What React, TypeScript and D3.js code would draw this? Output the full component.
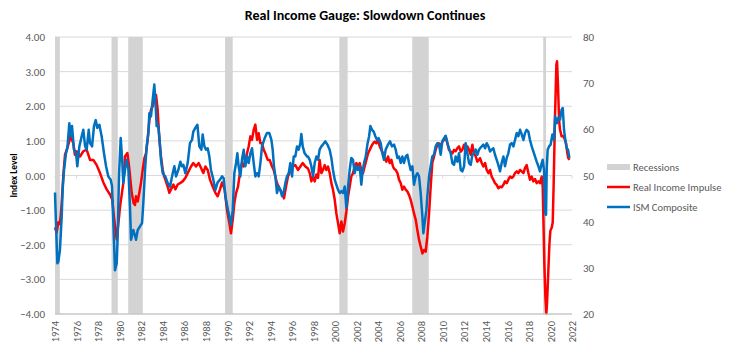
import React, { Component } from "react";
import * as d3 from "d3";

// decimal year, index level
const incomeImpulse: [number, number][] = [
  [1974.75, -1.5], [1974.9, -1.65], [1975.06, -1.35], [1975.2, -1.4], [1975.3, -1.1], [1975.37, -0.8],
  [1975.52, 0.0], [1975.68, 0.6], [1975.85, 0.75], [1975.99, 0.9], [1976.2, 1.13], [1976.45, 0.93],
  [1976.6, 0.6], [1976.76, 0.7], [1977.07, 0.55], [1977.38, 0.7], [1977.69, 0.75], [1978.0, 0.45],
  [1978.31, 0.45], [1978.62, 0.3], [1978.93, 0.07], [1979.24, -0.2], [1979.55, -0.4], [1979.86, -0.55],
  [1980.07, -0.7], [1980.26, -1.3], [1980.48, -1.85], [1980.63, -1.4], [1980.79, -0.9], [1981.1, -0.2],
  [1981.25, 0.55], [1981.47, 0.65], [1981.65, 0.2], [1981.87, -0.5], [1982.05, -0.8], [1982.18, -0.85],
  [1982.27, -0.6], [1982.43, -0.75], [1982.58, -0.5], [1982.74, -0.2], [1982.89, 0.16], [1983.05, 0.5],
  [1983.2, 0.64], [1983.35, 1.03], [1983.51, 1.6], [1983.66, 1.9], [1983.82, 2.0], [1983.97, 2.19],
  [1984.13, 2.33], [1984.28, 1.9], [1984.44, 1.03], [1984.59, 0.55], [1984.75, 0.16], [1984.9, -0.03],
  [1985.21, -0.32], [1985.37, -0.5], [1985.52, -0.4], [1985.74, -0.26], [1985.92, -0.4], [1986.14, -0.26],
  [1986.36, -0.22], [1986.6, -0.17], [1986.85, -0.07], [1987.07, 0.07], [1987.38, 0.26], [1987.59, 0.36],
  [1987.84, 0.26], [1988.09, 0.36], [1988.31, 0.22], [1988.52, 0.07], [1988.71, 0.26], [1988.93, 0.16],
  [1989.14, -0.12], [1989.39, -0.32], [1989.64, -0.5], [1989.85, -0.6], [1990.07, -0.4], [1990.26, -0.2],
  [1990.5, -0.41], [1990.72, -1.0], [1990.94, -1.38], [1991.09, -1.67], [1991.25, -1.28], [1991.4, -0.8],
  [1991.56, -0.51], [1991.74, -0.32], [1991.96, 0.16], [1992.11, 0.36], [1992.27, 0.26], [1992.42, 0.45],
  [1992.58, 0.64], [1992.73, 0.84], [1992.89, 1.13], [1993.04, 1.03], [1993.2, 1.32], [1993.35, 1.47],
  [1993.51, 1.03], [1993.66, 1.22], [1993.82, 0.93], [1993.97, 0.93], [1994.13, 0.74], [1994.28, 0.64],
  [1994.5, 0.45], [1994.68, 0.45], [1994.9, 0.26], [1995.05, 0.16], [1995.21, -0.03], [1995.36, -0.22],
  [1995.58, -0.37], [1995.83, -0.5], [1996.01, -0.66], [1996.2, -0.32], [1996.38, -0.03], [1996.6, 0.12],
  [1996.82, 0.26], [1997.06, 0.3], [1997.31, 0.16], [1997.53, 0.26], [1997.75, 0.36], [1997.99, 0.26],
  [1998.24, 0.2], [1998.4, 0.07], [1998.55, -0.17], [1998.71, -0.03], [1998.86, -0.17], [1999.02, 0.03],
  [1999.17, -0.07], [1999.32, 0.45], [1999.48, 0.07], [1999.63, 0.16], [1999.79, 0.3], [1999.94, 0.16],
  [2000.1, 0.26], [2000.25, 0.07], [2000.41, -0.22], [2000.56, -0.41], [2000.72, -0.7], [2000.87, -1.09],
  [2001.03, -1.38], [2001.18, -1.67], [2001.34, -1.33], [2001.49, -1.62], [2001.65, -1.38], [2001.8, -1.04],
  [2001.96, -0.6], [2002.11, -0.32], [2002.26, -0.03], [2002.42, 0.07], [2002.57, 0.26], [2002.73, 0.36],
  [2002.88, 0.26], [2003.04, 0.36], [2003.19, 0.16], [2003.35, 0.07], [2003.5, 0.26], [2003.66, 0.45],
  [2003.81, 0.64], [2003.97, 0.74], [2004.12, 0.84], [2004.28, 0.93], [2004.43, 0.98], [2004.59, 0.93],
  [2004.74, 1.03], [2004.9, 0.84], [2005.05, 0.74], [2005.2, 0.64], [2005.36, 0.5], [2005.51, 0.4],
  [2005.67, 0.55], [2005.82, 0.36], [2005.98, 0.45], [2006.13, 0.26], [2006.23, 0.2], [2006.38, 0.16],
  [2006.54, 0.07], [2006.69, -0.12], [2006.85, -0.22], [2007.0, -0.41], [2007.15, -0.32], [2007.31, -0.41],
  [2007.46, -0.46], [2007.62, -0.56], [2007.77, -0.7], [2007.93, -0.9], [2008.08, -1.09], [2008.24, -1.28],
  [2008.39, -1.57], [2008.55, -1.86], [2008.7, -2.05], [2008.86, -2.25], [2009.01, -2.15], [2009.17, -2.2],
  [2009.32, -1.76], [2009.48, -1.09], [2009.63, -0.32], [2009.78, 0.36], [2009.94, 0.55], [2010.09, 0.74],
  [2010.25, 0.89], [2010.4, 0.93], [2010.56, 0.84], [2010.71, 0.98], [2010.87, 1.03], [2011.02, 1.13],
  [2011.18, 0.93], [2011.33, 0.74], [2011.49, 0.69], [2011.64, 0.64], [2011.8, 0.74], [2011.95, 0.7],
  [2012.11, 0.79], [2012.26, 0.84], [2012.42, 0.69], [2012.57, 0.74], [2012.73, 0.89], [2012.88, 0.74],
  [2013.04, 0.84], [2013.19, 0.74], [2013.35, 0.6], [2013.5, 0.89], [2013.65, 0.64], [2013.81, 0.55],
  [2013.96, 0.4], [2014.12, 0.45], [2014.21, 0.5], [2014.37, 0.36], [2014.52, 0.26], [2014.68, 0.36],
  [2014.83, 0.16], [2014.99, 0.07], [2015.14, 0.16], [2015.29, -0.03], [2015.45, -0.12], [2015.6, -0.22],
  [2015.76, -0.27], [2015.91, -0.37], [2016.07, -0.32], [2016.22, -0.34], [2016.38, -0.27], [2016.53, -0.17],
  [2016.69, -0.22], [2016.84, -0.12], [2017.0, -0.03], [2017.15, -0.07], [2017.31, -0.03], [2017.46, 0.07],
  [2017.62, 0.12], [2017.77, 0.07], [2017.93, 0.16], [2018.08, 0.12], [2018.24, 0.07], [2018.39, 0.22],
  [2018.54, 0.3], [2018.7, 0.07], [2018.85, -0.12], [2019.01, -0.03], [2019.16, -0.17], [2019.32, -0.1],
  [2019.47, -0.22], [2019.63, -0.17], [2019.78, -0.22], [2019.94, -0.03], [2020.03, -0.32], [2020.09, -1.19],
  [2020.18, -2.54], [2020.28, -3.5], [2020.37, -3.98], [2020.43, -3.7], [2020.56, -2.7], [2020.65, -2.0],
  [2020.74, -1.6], [2020.87, -1.5], [2020.96, -1.35], [2021.05, -0.2], [2021.18, 1.8], [2021.3, 3.2],
  [2021.36, 3.3], [2021.45, 2.6], [2021.55, 1.6], [2021.64, 1.32], [2021.79, 1.13], [2021.95, 1.13],
  [2022.1, 1.03], [2022.2, 0.93], [2022.32, 0.64], [2022.41, 0.5], [2022.51, 0.45],
];

// decimal year, ISM composite
const ismComposite: [number, number][] = [
  [1974.75, 46.3], [1974.84, 39.7], [1974.97, 31.0], [1975.06, 31.3], [1975.21, 33.9], [1975.37, 41.0],
  [1975.46, 47.0], [1975.59, 51.2], [1975.77, 54.8], [1975.9, 56.0], [1976.08, 61.3], [1976.2, 58.5],
  [1976.33, 60.7], [1976.51, 55.6], [1976.7, 54.9], [1976.82, 52.0], [1977.01, 56.3], [1977.23, 58.5],
  [1977.38, 59.9], [1977.54, 56.4], [1977.69, 55.6], [1977.88, 59.9], [1978.0, 57.0], [1978.19, 56.3],
  [1978.37, 60.7], [1978.53, 62.0], [1978.68, 60.3], [1978.87, 61.0], [1979.08, 58.5], [1979.3, 54.8],
  [1979.49, 52.0], [1979.7, 49.8], [1979.92, 49.1], [1980.04, 47.8], [1980.17, 39.7], [1980.32, 29.5],
  [1980.48, 31.0], [1980.57, 36.8], [1980.69, 49.8], [1980.85, 58.1], [1980.97, 54.1], [1981.09, 48.4],
  [1981.25, 51.2], [1981.4, 53.4], [1981.56, 51.5], [1981.71, 43.3], [1981.81, 36.1], [1982.02, 38.2],
  [1982.21, 36.7], [1982.27, 36.1], [1982.43, 38.2], [1982.64, 39.0], [1982.83, 39.7], [1982.95, 44.0],
  [1983.11, 51.2], [1983.26, 56.3], [1983.42, 59.2], [1983.51, 63.5], [1983.66, 62.8], [1983.82, 66.4],
  [1983.97, 69.7], [1984.07, 66.1], [1984.19, 60.7], [1984.31, 61.0], [1984.44, 58.5], [1984.59, 53.4],
  [1984.75, 50.5], [1984.99, 49.8], [1985.21, 48.4], [1985.43, 47.6], [1985.68, 50.5], [1985.83, 52.0],
  [1985.99, 49.8], [1986.2, 51.2], [1986.39, 53.0], [1986.54, 52.0], [1986.67, 52.3], [1986.85, 50.5],
  [1987.07, 52.7], [1987.28, 57.0], [1987.47, 57.7], [1987.59, 59.5], [1987.78, 60.3], [1987.97, 61.0],
  [1988.15, 56.3], [1988.34, 55.6], [1988.46, 58.9], [1988.62, 56.3], [1988.77, 55.6], [1988.93, 55.9],
  [1989.08, 54.1], [1989.23, 51.2], [1989.45, 49.1], [1989.64, 46.9], [1989.85, 48.5], [1990.07, 49.1],
  [1990.26, 49.8], [1990.41, 49.4], [1990.57, 45.5], [1990.81, 42.5], [1990.94, 41.1], [1991.09, 39.3],
  [1991.25, 42.5], [1991.4, 50.5], [1991.56, 52.7], [1991.68, 54.8], [1991.8, 52.0], [1991.96, 49.8],
  [1992.11, 53.4], [1992.27, 55.6], [1992.42, 52.0], [1992.58, 54.1], [1992.73, 52.7], [1992.89, 54.8],
  [1993.04, 55.9], [1993.2, 52.7], [1993.35, 49.8], [1993.51, 50.5], [1993.66, 49.8], [1993.82, 52.7],
  [1993.97, 56.3], [1994.22, 58.1], [1994.43, 59.2], [1994.65, 59.2], [1994.84, 57.7], [1994.96, 55.6],
  [1995.08, 52.0], [1995.21, 49.8], [1995.36, 46.2], [1995.52, 47.6], [1995.67, 46.9], [1995.83, 45.5],
  [1995.98, 46.3], [1996.14, 48.4], [1996.29, 49.8], [1996.45, 50.5], [1996.6, 52.7], [1996.76, 49.8],
  [1996.91, 54.1], [1997.06, 54.1], [1997.22, 56.3], [1997.37, 55.6], [1997.53, 57.0], [1997.62, 59.0],
  [1997.75, 56.3], [1997.93, 54.8], [1998.15, 54.1], [1998.24, 54.1], [1998.4, 53.4], [1998.55, 52.0],
  [1998.71, 49.8], [1998.86, 52.7], [1999.02, 54.1], [1999.17, 53.4], [1999.32, 55.6], [1999.48, 56.3],
  [1999.63, 56.7], [1999.85, 57.4], [2000.04, 56.7], [2000.25, 55.6], [2000.41, 53.8], [2000.56, 51.2],
  [2000.72, 49.1], [2000.87, 48.0], [2001.03, 46.9], [2001.18, 46.2], [2001.34, 46.6], [2001.49, 46.2],
  [2001.65, 47.6], [2001.8, 43.0], [2001.96, 47.6], [2002.11, 51.2], [2002.26, 53.8], [2002.42, 53.4],
  [2002.57, 50.5], [2002.73, 52.0], [2002.88, 51.2], [2003.04, 52.0], [2003.19, 48.0], [2003.29, 50.5],
  [2003.44, 52.7], [2003.6, 54.1], [2003.75, 56.7], [2003.91, 58.5], [2004.03, 60.7], [2004.18, 59.9],
  [2004.34, 59.5], [2004.49, 58.5], [2004.65, 57.7], [2004.8, 58.1], [2004.99, 57.0], [2005.14, 54.8],
  [2005.3, 53.4], [2005.45, 55.6], [2005.67, 56.7], [2005.85, 57.4], [2006.04, 56.3], [2006.23, 56.7],
  [2006.38, 55.6], [2006.54, 53.8], [2006.69, 54.1], [2006.85, 52.7], [2007.0, 54.1], [2007.15, 52.7],
  [2007.31, 54.1], [2007.46, 54.5], [2007.62, 52.7], [2007.77, 51.2], [2007.93, 52.0], [2008.08, 48.0],
  [2008.24, 49.8], [2008.39, 50.5], [2008.55, 49.8], [2008.7, 46.2], [2008.86, 41.1], [2008.95, 37.5],
  [2009.07, 39.7], [2009.23, 42.5], [2009.32, 45.5], [2009.48, 49.8], [2009.63, 52.0], [2009.78, 54.1],
  [2009.94, 54.5], [2010.09, 56.3], [2010.25, 57.0], [2010.4, 56.7], [2010.56, 54.5], [2010.71, 57.4],
  [2010.87, 58.1], [2011.02, 58.6], [2011.18, 57.0], [2011.33, 55.9], [2011.49, 54.8], [2011.64, 52.7],
  [2011.8, 52.3], [2011.95, 54.1], [2012.11, 53.0], [2012.26, 54.8], [2012.42, 51.2], [2012.57, 50.9],
  [2012.73, 52.0], [2012.88, 57.0], [2013.04, 54.8], [2013.19, 52.7], [2013.35, 52.3], [2013.5, 54.5],
  [2013.65, 54.8], [2013.81, 55.6], [2013.96, 54.5], [2014.12, 55.6], [2014.21, 55.9], [2014.37, 56.3],
  [2014.52, 56.7], [2014.68, 55.9], [2014.83, 57.0], [2014.99, 56.3], [2015.14, 55.2], [2015.29, 55.6],
  [2015.45, 55.9], [2015.6, 54.5], [2015.76, 53.4], [2015.91, 52.3], [2016.07, 50.9], [2016.22, 52.7],
  [2016.38, 54.1], [2016.53, 52.0], [2016.69, 53.8], [2016.84, 54.8], [2017.0, 56.7], [2017.15, 57.0],
  [2017.31, 56.3], [2017.46, 57.7], [2017.62, 59.2], [2017.77, 58.5], [2017.93, 59.9], [2018.08, 58.9],
  [2018.24, 57.7], [2018.39, 59.2], [2018.54, 59.9], [2018.7, 59.5], [2018.85, 57.7], [2019.01, 56.3],
  [2019.16, 55.2], [2019.32, 54.1], [2019.47, 53.0], [2019.63, 52.0], [2019.78, 50.9], [2019.94, 52.7],
  [2020.03, 53.4], [2020.15, 51.2], [2020.25, 41.8], [2020.34, 41.5], [2020.4, 51.2], [2020.49, 55.6],
  [2020.62, 56.3], [2020.77, 56.7], [2020.93, 58.9], [2021.08, 57.7], [2021.18, 62.8], [2021.33, 61.3],
  [2021.48, 62.5], [2021.64, 62.1], [2021.79, 64.3], [2021.89, 64.6], [2022.01, 59.9], [2022.13, 57.7],
  [2022.26, 55.9], [2022.38, 55.6], [2022.51, 53.8],
];

// NBER recessions, start and end as decimal years
const recessions: [number, number][] = [
  [1973.83, 1975.2], [1980.0, 1980.58], [1981.55, 1982.9], [1990.54, 1991.25],
  [2001.15, 2001.92], [2007.92, 2009.45], [2020.08, 2020.34],
];

const leftTicks = [-4, -3, -2, -1, 0, 1, 2, 3, 4];
const rightTicks = [20, 30, 40, 50, 60, 70, 80];
// axis starts Oct 1974, a label every 24 months
const yearTicks = d3.range(1974.75, 2023, 2);

const FONT = "Carlito, Calibri, Lato, sans-serif";

class App extends Component {
  svgRef = React.createRef<SVGSVGElement>();

  componentDidMount() {
    this.drawChart();
  }

  drawChart = () => {
    const width = 735;
    const height = 351;
    const margin = { top: 37, right: 163, bottom: 37, left: 55 };

    const svg = d3.select(this.svgRef.current);
    svg.selectAll("*").remove();
    svg.attr("width", width).attr("height", height);

    const x = d3.scaleLinear()
      .domain([1974.75, 2022.75])
      .range([margin.left, width - margin.right]);
    const yLeft = d3.scaleLinear()
      .domain([-4, 4])
      .range([height - margin.bottom, margin.top]);
    const yRight = d3.scaleLinear()
      .domain([20, 80])
      .range([height - margin.bottom, margin.top]);

    svg.append("rect").attr("width", width).attr("height", height).attr("fill", "#fff");

    // gridlines
    svg.append("g")
      .selectAll("line")
      .data(leftTicks)
      .enter()
      .append("line")
      .attr("x1", margin.left)
      .attr("x2", width - margin.right)
      .attr("y1", d => yLeft(d))
      .attr("y2", d => yLeft(d))
      .attr("stroke", "#d9d9d9")
      .attr("stroke-width", 1);

    // recession shading
    svg.append("g")
      .selectAll("rect")
      .data(recessions)
      .enter()
      .append("rect")
      .attr("x", d => x(Math.max(d[0], 1974.75)))
      .attr("width", d => x(d[1]) - x(Math.max(d[0], 1974.75)))
      .attr("y", yLeft(4))
      .attr("height", yLeft(-4) - yLeft(4))
      .attr("fill", "#d3d3d3");

    // little tick marks on the zero line
    svg.append("g")
      .selectAll("line")
      .data(yearTicks)
      .enter()
      .append("line")
      .attr("x1", d => x(d))
      .attr("x2", d => x(d))
      .attr("y1", yLeft(0))
      .attr("y2", yLeft(0) + 3)
      .attr("stroke", "#d9d9d9");

    const incomeLine = d3.line<[number, number]>()
      .x(d => x(d[0]))
      .y(d => yLeft(d[1]));
    const ismLine = d3.line<[number, number]>()
      .x(d => x(d[0]))
      .y(d => yRight(d[1]));

    svg.append("path")
      .datum(incomeImpulse)
      .attr("d", incomeLine)
      .attr("fill", "none")
      .attr("stroke", "#ff0000")
      .attr("stroke-width", 2.5)
      .attr("stroke-linejoin", "round");

    svg.append("path")
      .datum(ismComposite)
      .attr("d", ismLine)
      .attr("fill", "none")
      .attr("stroke", "#0070c0")
      .attr("stroke-width", 2.5)
      .attr("stroke-linejoin", "round");

    // axes
    const styleAxis = (g: any) => {
      g.select(".domain").remove();
      g.selectAll("line").remove();
      g.selectAll("text")
        .style("font-family", FONT)
        .style("font-size", "11px")
        .attr("fill", "#595959");
    };

    svg.append("g")
      .attr("transform", `translate(${margin.left}, 0)`)
      .call(d3.axisLeft(yLeft).tickValues(leftTicks).tickFormat(d3.format(".2f")).tickSize(0).tickPadding(10))
      .call(styleAxis);

    svg.append("g")
      .attr("transform", `translate(${width - margin.right}, 0)`)
      .call(d3.axisRight(yRight).tickValues(rightTicks).tickSize(0).tickPadding(11))
      .call(styleAxis);

    const xAxisG = svg.append("g")
      .attr("transform", `translate(0, ${height - margin.bottom})`)
      .call(d3.axisBottom(x).tickValues(yearTicks).tickFormat(d => String(Math.floor(+d))).tickSize(0))
      .call(styleAxis);
    xAxisG.selectAll("text")
      .style("font-size", "10.5px")
      .attr("transform", "rotate(-90)")
      .attr("text-anchor", "end")
      .attr("x", -7)
      .attr("y", 0)
      .attr("dy", "0.35em");

    svg.append("line")
      .attr("x1", margin.left)
      .attr("x2", width - margin.right)
      .attr("y1", yLeft(-4))
      .attr("y2", yLeft(-4))
      .attr("stroke", "#bfbfbf");

    // title
    svg.append("text")
      .attr("x", 365)
      .attr("y", 20)
      .attr("text-anchor", "middle")
      .style("font-family", FONT)
      .style("font-size", "14px")
      .style("font-weight", "bold")
      .attr("fill", "#000")
      .text("Real Income Gauge: Slowdown Continues");

    svg.append("text")
      .attr("text-anchor", "middle")
      .attr("transform", `translate(17, ${yLeft(0)}) rotate(-90)`)
      .style("font-family", FONT)
      .style("font-size", "9.5px")
      .style("font-weight", "bold")
      .attr("fill", "#000")
      .text("Index Level");

    // legend
    const legend = svg.append("g").attr("transform", "translate(607, 167)");
    legend.append("rect")
      .attr("x", 0).attr("y", -3).attr("width", 23).attr("height", 6)
      .attr("fill", "#d3d3d3");
    const legendItems = [
      { label: "Real Income Impulse", color: "#ff0000" },
      { label: "ISM Composite", color: "#0070c0" },
    ];
    legendItems.forEach((item, i) => {
      legend.append("line")
        .attr("x1", 0).attr("x2", 23)
        .attr("y1", 20 * (i + 1)).attr("y2", 20 * (i + 1))
        .attr("stroke", item.color)
        .attr("stroke-width", 2.5);
    });
    ["Recessions", ...legendItems.map(d => d.label)].forEach((label, i) => {
      legend.append("text")
        .attr("x", 26)
        .attr("y", 20 * i)
        .attr("dy", "0.35em")
        .style("font-family", FONT)
        .style("font-size", "10.5px")
        .attr("fill", "#595959")
        .text(label);
    });
  };

  render() {
    return (
      <div style={{ position: "fixed", left: 0, top: 0, width: 735, height: 351, background: "#fff" }}>
        <svg ref={this.svgRef} style={{ display: "block" }}></svg>
      </div>
    );
  }
}

export default App;
